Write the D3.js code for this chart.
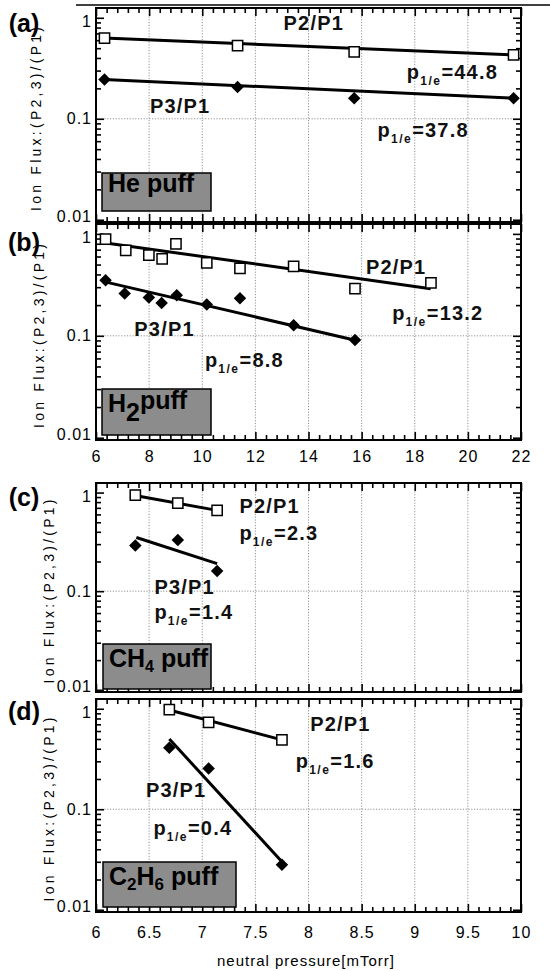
<!DOCTYPE html>
<html>
<head>
<meta charset="utf-8">
<script src="https://cdn.jsdelivr.net/npm/d3@7/dist/d3.min.js"></script>
<style>
  body { margin: 0; background: #fff; }
  svg { display: block; }
</style>
</head>
<body>
<svg id="chart" width="550" height="971"></svg>
<script>
// ---------- data ----------

// tick values / labels
const xTicksWide = [6, 8, 10, 12, 14, 16, 18, 20, 22];
const xTicksNarrow = [6, 6.5, 7, 7.5, 8, 8.5, 9, 9.5, 10];
const xLabelsWide = ['6', '8', '10', '12', '14', '16', '18', '20', '22'];
const xLabelsNarrow = ['6', '6.5', '7', '7.5', '8', '8.5', '9', '9.5', '10'];
const yTicks = [0.01, 0.1, 1];
const yTickLabels = ['0.01', '0.1', '1'];

// (a) He puff
const heX = [6.32, 11.33, 15.72, 21.72];
const heP2 = [0.63, 0.53, 0.46, 0.43];
const heP3 = [0.245, 0.206, 0.16, 0.16];
const heFitX = [6.3, 21.7];
const heFitP2 = [0.63, 0.43];
const heFitP3 = [0.245, 0.16];

// (b) H2 puff
const h2X2 = [6.36, 7.12, 7.99, 8.49, 9.01, 10.17, 11.42, 13.44, 15.75, 18.61];
const h2P2 = [0.89, 0.69, 0.62, 0.57, 0.80, 0.52, 0.46, 0.48, 0.29, 0.33];
const h2X3 = [6.36, 7.08, 7.99, 8.47, 9.04, 10.17, 11.42, 13.44, 15.75];
const h2P3 = [0.35, 0.26, 0.237, 0.21, 0.25, 0.203, 0.233, 0.127, 0.091];
const h2FitX2 = [6.3, 18.6];
const h2FitP2 = [0.82, 0.29];
const h2FitX3 = [6.3, 15.8];
const h2FitP3 = [0.34, 0.09];

// (c) CH4 puff
const ch4X = [6.37, 6.77, 7.14];
const ch4P2 = [0.94, 0.78, 0.66];
const ch4P3 = [0.29, 0.33, 0.16];
const ch4FitX = [6.38, 7.14];
const ch4FitP2 = [0.93, 0.66];
const ch4FitP3 = [0.35, 0.19];

// (d) C2H6 puff
const c2h6X = [6.69, 7.06, 7.75];
const c2h6P2 = [0.98, 0.73, 0.49];
const c2h6P3 = [0.41, 0.255, 0.028];
const c2h6FitX = [6.69, 7.75];
const c2h6FitP2 = [0.97, 0.49];
const c2h6FitP3 = [0.50, 0.030];

// ---------- layout ----------
const L = 96, R = 521;
const yDomain = [0.0095, 1.25];
const svg = d3.select('#chart');
const fontAxis = "'Liberation Sans', Arial, sans-serif";

const zip = (xs, ys) => xs.map((d, i) => ({ x: d, y: ys[i] }));

const panels = [
	{
		tag: '(a)', tagY: 23, titleX: 36, top: 8, bottom: 222,
		xDomain: [6, 22], xTicks: xTicksWide, xLabels: null,
		p2: zip(heX, heP2), p3: zip(heX, heP3),
		fit2: zip(heFitX, heFitP2), fit3: zip(heFitX, heFitP3),
		notes: [
			{ kind: 'ratio', text: 'P2/P1', x: 14.2, y: 0.9, anchor: 'middle' },
			{ kind: 'pe', text: '=44.8', x: 17.7, y: 0.29 },
			{ kind: 'ratio', text: 'P3/P1', x: 9.17, y: 0.134, anchor: 'middle' },
			{ kind: 'pe', text: '=37.8', x: 16.6, y: 0.078 }
		],
		box: { dx: 6, w: 109, h: 38, gap: 11, parts: [['He puff', 0]] }
	},
	{
		tag: '(b)', tagY: 242, titleX: 39, top: 224, bottom: 440,
		xDomain: [6, 22], xTicks: xTicksWide, xLabels: xLabelsWide, labelPad: 11,
		p2: zip(h2X2, h2P2), p3: zip(h2X3, h2P3),
		fit2: zip(h2FitX2, h2FitP2), fit3: zip(h2FitX3, h2FitP3),
		notes: [
			{ kind: 'ratio', text: 'P2/P1', x: 17.3, y: 0.48, anchor: 'middle' },
			{ kind: 'pe', text: '=13.2', x: 17.15, y: 0.17 },
			{ kind: 'ratio', text: 'P3/P1', x: 8.58, y: 0.118, anchor: 'middle' },
			{ kind: 'pe', text: '=8.8', x: 10.1, y: 0.058 }
		],
		box: { dx: 6, w: 109, h: 46, gap: 5, parts: [['H', 0], ['2', 9], ['puff', -12]] }
	},
	{
		tag: '(c)', tagY: 497, titleX: 49, top: 483, bottom: 692,
		xDomain: [6, 10], xTicks: xTicksNarrow, xLabels: null,
		p2: zip(ch4X, ch4P2), p3: zip(ch4X, ch4P3),
		fit2: zip(ch4FitX, ch4FitP2), fit3: zip(ch4FitX, ch4FitP3),
		notes: [
			{ kind: 'ratio', text: 'P2/P1', x: 7.35, y: 0.73, anchor: 'start' },
			{ kind: 'pe', text: '=2.3', x: 7.35, y: 0.39 },
			{ kind: 'ratio', text: 'P3/P1', x: 6.55, y: 0.11, anchor: 'start' },
			{ kind: 'pe', text: '=1.4', x: 6.55, y: 0.062 }
		],
		box: { dx: 7, w: 108, h: 45, gap: 3, parts: [['CH', 0], ['4', 5, 16], [' puff', -5]] }
	},
	{
		tag: '(d)', tagY: 711, titleX: 49, top: 699, bottom: 912,
		xDomain: [6, 10], xTicks: xTicksNarrow, xLabels: xLabelsNarrow, labelPad: 15,
		p2: zip(c2h6X, c2h6P2), p3: zip(c2h6X, c2h6P3),
		fit2: zip(c2h6FitX, c2h6FitP2), fit3: zip(c2h6FitX, c2h6FitP3),
		notes: [
			{ kind: 'ratio', text: 'P2/P1', x: 8.3, y: 0.71, anchor: 'middle' },
			{ kind: 'pe', text: '=1.6', x: 7.88, y: 0.3 },
			{ kind: 'ratio', text: 'P3/P1', x: 6.47, y: 0.156, anchor: 'start' },
			{ kind: 'pe', text: '=0.4', x: 6.54, y: 0.065 }
		],
		box: { dx: 7, w: 133, h: 45, gap: 5, parts: [['C', 0], ['2', 5, 17], ['H', -5], ['6', 5, 17], [' puff', -5]] }
	}
];

// minor ticks between majors (4 per interval)
function minorX(majors) {
	const out = [];
	for (let i = 0; i < majors.length - 1; i++) {
		const step = (majors[i + 1] - majors[i]) / 5;
		for (let k = 1; k < 5; k++) out.push(majors[i] + k * step);
	}
	return out;
}
const yMinor = [];
[0.01, 0.1].forEach(dec => { for (let m = 2; m <= 9; m++) yMinor.push(m * dec); });

function styleAxis(sel) {
	sel.select('.domain').remove();
	sel.selectAll('.tick line').attr('stroke', '#000').attr('stroke-width', 1.6);
	sel.selectAll('.tick text')
		.attr('fill', '#000')
		.style('font-family', fontAxis)
		.style('font-size', '16px')
		.style('letter-spacing', '1px');
}

function drawPanel(p) {
	const x = d3.scaleLinear().domain(p.xDomain).range([L, R]);
	const y = d3.scaleLog().domain(yDomain).range([p.bottom, p.top]);
	const g = svg.append('g');

	// dotted grid
	g.append('g').selectAll('line')
		.data(p.xTicks.slice(1, -1))
		.join('line')
		.attr('x1', d => x(d)).attr('x2', d => x(d))
		.attr('y1', p.top).attr('y2', p.bottom)
		.attr('stroke', '#888').attr('stroke-width', 0.9)
		.attr('stroke-dasharray', '1.2,1.6');
	g.append('line')
		.attr('x1', L).attr('x2', R)
		.attr('y1', y(0.1)).attr('y2', y(0.1))
		.attr('stroke', '#888').attr('stroke-width', 0.9)
		.attr('stroke-dasharray', '1.2,1.6');

	const mx = minorX(p.xTicks);

	// bottom
	const xb = g.append('g').attr('transform', `translate(0,${p.bottom})`)
		.call(d3.axisBottom(x).tickValues(p.xTicks).tickSize(-8)
			.tickPadding(p.labelPad || 8)
			.tickFormat((d, i) => p.xLabels ? p.xLabels[i] : ''));
	styleAxis(xb);
	styleAxis(g.append('g').attr('transform', `translate(0,${p.bottom})`)
		.call(d3.axisBottom(x).tickValues(mx).tickSize(-5).tickFormat('')));
	// top
	styleAxis(g.append('g').attr('transform', `translate(0,${p.top})`)
		.call(d3.axisTop(x).tickValues(p.xTicks).tickSize(-8).tickFormat('')));
	styleAxis(g.append('g').attr('transform', `translate(0,${p.top})`)
		.call(d3.axisTop(x).tickValues(mx).tickSize(-5).tickFormat('')));
	// left
	const ya = g.append('g').attr('transform', `translate(${L},0)`)
		.call(d3.axisLeft(y).tickValues(yTicks).tickSize(-8).tickPadding(4)
			.tickFormat((d, i) => yTickLabels[i]));
	styleAxis(ya);
	// nudge end labels apart so neighbouring panels don't collide
	ya.selectAll('.tick text').attr('dy', d => d === 1 ? '0.55em' : d === 0.01 ? '0.1em' : '0.32em');
	styleAxis(g.append('g').attr('transform', `translate(${L},0)`)
		.call(d3.axisLeft(y).tickValues(yMinor).tickSize(-5).tickFormat('')));
	// right
	styleAxis(g.append('g').attr('transform', `translate(${R},0)`)
		.call(d3.axisRight(y).tickValues(yTicks).tickSize(-8).tickFormat('')));
	styleAxis(g.append('g').attr('transform', `translate(${R},0)`)
		.call(d3.axisRight(y).tickValues(yMinor).tickSize(-5).tickFormat('')));

	// frame
	g.append('rect')
		.attr('x', L).attr('y', p.top)
		.attr('width', R - L).attr('height', p.bottom - p.top)
		.attr('fill', 'none').attr('stroke', '#000').attr('stroke-width', 2);

	// fit lines
	const line = d3.line().x(d => x(d.x)).y(d => y(d.y));
	[p.fit2, p.fit3].forEach(f => {
		g.append('path').datum(f).attr('d', line)
			.attr('fill', 'none').attr('stroke', '#000').attr('stroke-width', 3);
	});

	// markers
	g.append('g').selectAll('path')
		.data(p.p3).join('path')
		.attr('d', d3.symbol(d3.symbolSquare, 78))
		.attr('transform', d => `translate(${x(d.x)},${y(d.y)}) rotate(45)`)
		.attr('fill', '#000');
	g.append('g').selectAll('path')
		.data(p.p2).join('path')
		.attr('d', d3.symbol(d3.symbolSquare, 105))
		.attr('transform', d => `translate(${x(d.x)},${y(d.y)})`)
		.attr('fill', '#fff').attr('stroke', '#000').attr('stroke-width', 1.5);

	// annotations
	p.notes.forEach(n => {
		const t = g.append('text')
			.attr('x', x(n.x)).attr('y', y(n.y)).attr('dy', '0.36em')
			.attr('text-anchor', n.anchor || 'start')
			.style('font-family', fontAxis).style('font-weight', 'bold')
			.style('font-size', '20px').style('letter-spacing', '1.2px')
			.attr('fill', '#111');
		if (n.kind === 'ratio') {
			t.text(n.text);
		} else {
			t.append('tspan').text('p');
			t.append('tspan').text('1/e').attr('dy', 6)
				.style('font-size', '12px').style('letter-spacing', '1.5px');
			t.append('tspan').text(n.text).attr('dy', -6);
		}
	});

	// gas box
	const b = p.box;
	const by = p.bottom - b.gap - b.h;
	g.append('rect')
		.attr('x', L + b.dx).attr('y', by)
		.attr('width', b.w).attr('height', b.h)
		.attr('fill', '#8c8c8c').attr('stroke', '#000').attr('stroke-width', 1.5);
	const bt = g.append('text')
		.attr('x', L + b.dx + 6).attr('y', by + b.h / 2).attr('dy', '0.36em')
		.style('font-family', fontAxis).style('font-weight', 'bold')
		.style('font-size', '25px').attr('fill', '#000');
	b.parts.forEach(pt => {
		const s = bt.append('tspan').text(pt[0]).attr('dy', pt[1]);
		if (pt[2]) s.style('font-size', pt[2] + 'px');
	});

	// panel tag
	svg.append('text')
		.attr('x', 24).attr('y', p.tagY).attr('dy', '0.36em')
		.attr('text-anchor', 'middle')
		.style('font-family', fontAxis).style('font-size', '25px')
		.style('font-weight', 'bold')
		.attr('fill', '#000')
		.text(p.tag);

	// y title
	const cy = (p.top + p.bottom) / 2 + 4;
	svg.append('text')
		.attr('transform', `translate(${p.titleX},${cy}) rotate(-90)`)
		.attr('text-anchor', 'middle').attr('dy', '0.35em')
		.attr('textLength', 184).attr('lengthAdjust', 'spacing')
		.style('font-family', fontAxis).style('font-size', '14px')
		.attr('fill', '#000')
		.text('Ion Flux:(P2,3)/(P1)');
}

panels.forEach(drawPanel);

// scan edge line at very top
svg.append('line')
	.attr('x1', 76).attr('x2', 550).attr('y1', 5).attr('y2', 5)
	.attr('stroke', '#000').attr('stroke-width', 1.5);

// x title
svg.append('text')
	.attr('x', 306).attr('y', 966)
	.attr('text-anchor', 'middle')
	.style('font-family', fontAxis).style('font-size', '15px')
	.style('letter-spacing', '1px')
	.attr('fill', '#000')
	.text('neutral pressure[mTorr]');
</script>
</body>
</html>
